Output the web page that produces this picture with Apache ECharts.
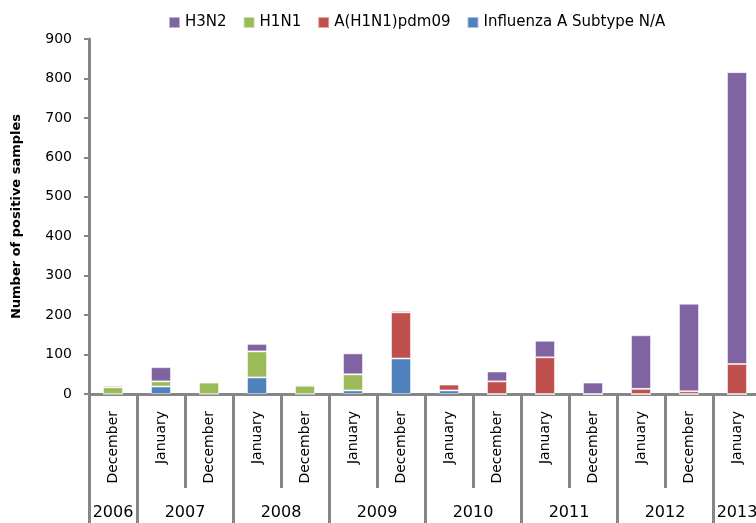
<!DOCTYPE html>
<html>
<head>
<meta charset="utf-8">
<script src="https://cdn.jsdelivr.net/npm/echarts@6/dist/echarts.min.js"></script>
<style>
  html, body { margin: 0; padding: 0; background: #fff; }
  #chart { width: 756px; height: 523px; }
</style>
</head>
<body>
<div id="chart"></div>
<script>
const months = ['December', 'January', 'December', 'January', 'December', 'January', 'December',
  'January', 'December', 'January', 'December', 'January', 'December', 'January']
const years = ['2006', '2007', '2008', '2009', '2010', '2011', '2012', '2013']
const monthsPerYear = [1, 2, 2, 2, 2, 2, 2, 1]

const subtypeNA = [0, 19, 0, 42, 0, 9, 90, 9, 0, 0, 0, 0, 0, 0]
const h1n1 = [17, 13, 29, 66, 21, 41, 0, 0, 0, 0, 0, 0, 0, 0]
const pdm09 = [0, 0, 0, 0, 0, 0, 117, 15, 32, 93, 0, 13, 7, 76]
const h3n2 = [4, 36, 3, 19, 3, 53, 4, 0, 25, 42, 29, 136, 222, 740]

const yTicks = { min: 0, max: 900, interval: 100 }

// year row: half-category points, ticks on year borders, label in the middle
const yearAxisData = new Array(months.length * 2 + 1).fill('')
const yearTicks = new Set()
let p = 0
years.forEach((y, i) => {
  const n = monthsPerYear[i]
  yearTicks.add(p)
  yearAxisData[p + n] = y
  p += 2 * n
  yearTicks.add(p)
})

const gray = '#868686'
const font = 'DejaVu Sans'

var chart = echarts.init(document.getElementById('chart'))

function bar(name, data, color) {
  return {
    name: name,
    type: 'bar',
    stack: 'total',
    barWidth: 20,
    data: data,
    itemStyle: {
      color: color,
      borderColor: 'rgba(255,255,255,0.5)',
      borderWidth: 1
    }
  }
}

var option = {
  animation: false,
  textStyle: { fontFamily: font, color: '#000' },
  legend: {
    data: ['H3N2', 'H1N1', 'A(H1N1)pdm09', 'Influenza A Subtype N/A'],
    left: 163,
    top: 10,
    icon: 'rect',
    itemWidth: 11,
    itemHeight: 11,
    itemGap: 16,
    textStyle: { fontFamily: font, fontSize: 15, color: '#000' }
  },
  grid: {
    left: 89,
    top: 39,
    width: 672,
    height: 355,
    containLabel: false,
    outerBoundsMode: 'none'
  },
  xAxis: [
    {
      type: 'category',
      position: 'bottom',
      data: months,
      axisLine: { show: true, lineStyle: { color: gray, width: 3 } },
      axisTick: { show: true, interval: 0, length: 94, lineStyle: { color: gray, width: 3 } },
      axisLabel: {
        interval: 0,
        rotate: 90,
        margin: 17,
        fontSize: 14,
        color: '#000',
        fontFamily: font
      }
    },
    {
      type: 'category',
      position: 'bottom',
      boundaryGap: false,
      data: yearAxisData,
      axisLine: { show: false },
      axisTick: {
        show: true,
        interval: (i) => yearTicks.has(i),
        length: 140,
        lineStyle: { color: gray, width: 3 }
      },
      axisLabel: {
        interval: (i, v) => v !== '',
        margin: 111,
        fontSize: 16,
        color: '#000',
        fontFamily: font
      }
    }
  ],
  yAxis: {
    type: 'value',
    min: yTicks.min,
    max: yTicks.max,
    interval: yTicks.interval,
    name: 'Number of positive samples',
    nameLocation: 'middle',
    nameGap: 66,
    nameTextStyle: { fontSize: 13, fontWeight: 'bold', color: '#000', fontFamily: font },
    axisLine: { show: true, lineStyle: { color: gray, width: 3 } },
    axisTick: { show: true, length: 5, lineStyle: { color: gray, width: 2 } },
    splitLine: { show: false },
    axisLabel: { fontSize: 14, color: '#000', margin: 17, fontFamily: font }
  },
  series: [
    bar('Influenza A Subtype N/A', subtypeNA, '#4F81BD'),
    bar('H1N1', h1n1, '#9BBB59'),
    bar('A(H1N1)pdm09', pdm09, '#C0504D'),
    bar('H3N2', h3n2, '#8064A2')
  ]
}

option && chart.setOption(option)
</script>
</body>
</html>
